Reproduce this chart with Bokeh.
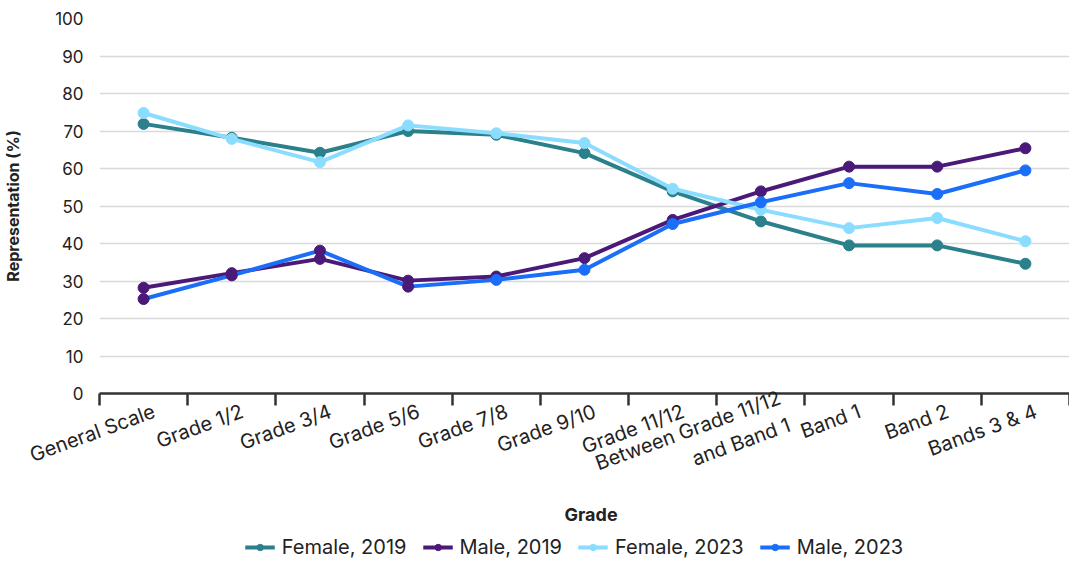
from bokeh.plotting import figure
from bokeh.models import (Range1d, FixedTicker, Legend, LegendItem, Title)
from bokeh.layouts import column
from bokeh.embed import file_html
from bokeh.resources import INLINE

categories = ["General Scale", "Grade 1/2", "Grade 3/4", "Grade 5/6", "Grade 7/8",
              "Grade 9/10", "Grade 11/12", "Between Grade 11/12\nand Band 1",
              "Band 1", "Band 2", "Bands 3 & 4"]
female_2019 = [71.9, 68.2, 64.2, 70.0, 69.0, 64.1, 53.9, 45.9, 39.5, 39.5, 34.6]
male_2019 = [28.2, 32.1, 35.9, 30.1, 31.2, 36.1, 46.3, 53.9, 60.5, 60.5, 65.4]
female_2023 = [74.8, 67.9, 61.7, 71.5, 69.4, 66.8, 54.6, 49.0, 44.1, 46.8, 40.6]
male_2023 = [25.2, 31.5, 38.1, 28.5, 30.3, 33.0, 45.2, 51.0, 56.1, 53.2, 59.5]
y_ticks = [0, 10, 20, 30, 40, 50, 60, 70, 80, 90, 100]

series_names = ["Female, 2019", "Male, 2019", "Female, 2023", "Male, 2023"]
colors = ["#2B808B", "#4B1A78", "#8ADDFF", "#1A6EF8"]

FONT = "Inter"
TXT = "#222222"

xs = [i + 0.5 for i in range(len(categories))]
# rotated labels end slightly right of each category centre
label_pos = [x + (0.27 if "\n" in c else 0.12) for x, c in zip(xs, categories)]

p = figure(frame_width=970, frame_height=375, output_backend="svg",
           toolbar_location=None, x_range=Range1d(0, len(categories)),
           y_range=Range1d(0, 100), min_border_left=10, min_border_right=0,
           min_border_top=18, min_border_bottom=0)
p.outline_line_color = None
p.background_fill_color = "white"

# y axis
p.yaxis.ticker = FixedTicker(ticks=y_ticks)
p.yaxis.axis_line_color = None
p.yaxis.major_tick_line_color = None
p.yaxis.major_tick_out = 0
p.yaxis.major_tick_in = 0
p.yaxis.minor_tick_line_color = None
p.yaxis.major_label_standoff = 16
p.yaxis.major_label_text_font = FONT
p.yaxis.major_label_text_font_size = "17px"
p.yaxis.major_label_text_color = TXT
p.yaxis.axis_label = "Representation (%)"
p.yaxis.axis_label_text_font = FONT
p.yaxis.axis_label_text_font_size = "16px"
p.yaxis.axis_label_text_font_style = "bold"
p.yaxis.axis_label_text_color = TXT
p.yaxis.axis_label_standoff = 29
p.ygrid.grid_line_color = "#D9D9D9"
p.ygrid.grid_line_width = 1.5
p.xgrid.grid_line_color = None

# x axis: labels near category centres, tick marks at category boundaries
xa = p.xaxis[0]
xa.ticker = FixedTicker(ticks=label_pos, minor_ticks=list(range(len(categories) + 1)))
xa.major_label_overrides = {x: c for x, c in zip(label_pos, categories)}
xa.major_tick_in = 0
xa.major_tick_out = 0
xa.minor_tick_in = 0
xa.minor_tick_out = 12
xa.minor_tick_line_color = "#333333"
xa.minor_tick_line_width = 2.5
xa.axis_line_color = "#333333"
xa.axis_line_width = 2.5
xa.major_label_orientation = 0.35
xa.major_label_standoff = 5
xa.major_label_text_font = FONT
xa.major_label_text_font_size = "20px"
xa.major_label_text_color = TXT

data = [female_2019, male_2019, female_2023, male_2023]
for name, vals, col in zip(series_names, data, colors):
    p.line(xs, vals, line_color=col, line_width=4)
    if name == "Male, 2023":
        # reference draws the first four markers of this series in dark purple
        p.scatter(xs[:4], vals[:4], size=11, fill_color=colors[1], line_color=colors[1])
        p.scatter(xs[4:], vals[4:], size=11, fill_color=col, line_color=col)
    else:
        p.scatter(xs, vals, size=11, fill_color=col, line_color=col)

# second strip: x-axis title "Grade" and the legend, pulled up under the tick labels
# (its own ranges keep the series out of view; only the legend swatches show)
p2 = figure(frame_width=950, frame_height=38, output_backend="svg",
            toolbar_location=None, x_axis_location=None, y_axis_location=None,
            x_range=Range1d(0, len(categories)), y_range=Range1d(1000, 1001),
            min_border_left=84, min_border_right=26, min_border_top=0,
            min_border_bottom=0, margin=(-32, 0, 0, 0))
p2.outline_line_color = None
p2.background_fill_alpha = 0
p2.border_fill_alpha = 0
p2.grid.grid_line_color = None
p2.title = Title(text="Grade", align="left", offset=465, standoff=7,
                 text_font=FONT, text_font_size="18px", text_font_style="bold",
                 text_color=TXT)

items = []
for name, vals, col in zip(series_names, data, colors):
    ln = p2.line(xs, vals, line_color=col, line_width=4)
    sc = p2.scatter(xs, vals, size=11, fill_color=col, line_color=col)
    items.append(LegendItem(label=name, renderers=[ln, sc]))

legend = Legend(items=items, orientation="horizontal", location="center",
                label_text_font=FONT, label_text_font_size="20px",
                label_text_color=TXT, glyph_width=30, glyph_height=16,
                label_standoff=7, spacing=16, border_line_color=None,
                background_fill_alpha=0, padding=0, margin=0)
p2.add_layout(legend, "center")

layout = column(p, p2, spacing=0)
open("out.html", "w").write(file_html(layout, INLINE))
